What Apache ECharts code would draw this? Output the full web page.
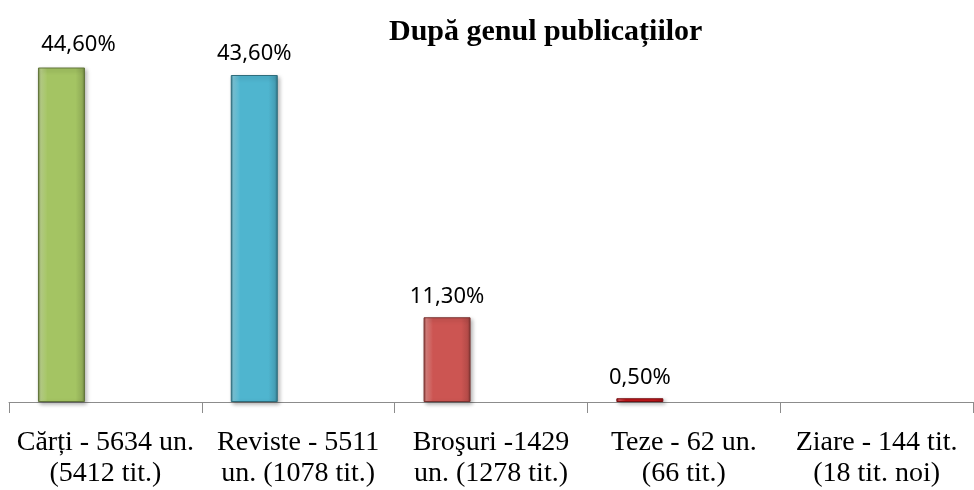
<!DOCTYPE html>
<html>
<head>
	<meta charset="UTF-8">
	<title>După genul publicațiilor</title>
	<script src="https://cdn.jsdelivr.net/npm/echarts@6/dist/echarts.min.js"></script>
	<style>
		html, body { margin: 0; padding: 0; background: #fff; }
		#chart { width: 974px; height: 490px; }
	</style>
</head>
<body>
<div id="chart"></div>
<script type="text/javascript">
	// date
	var categorii = [
		'Cărți - 5634 un.\n(5412 tit.)',
		'Reviste - 5511\nun. (1078 tit.)',
		'Broşuri -1429\nun. (1278 tit.)',
		'Teze - 62 un.\n(66 tit.)',
		'Ziare - 144 tit.\n(18 tit. noi)'
	];
	var procente = [44.6, 43.6, 11.3, 0.5, null];
	var culori = ['#a4c463', '#4fb5cf', '#cc5552', '#c8171c', '#8064a2'];
	var gol = [null, null, null, null, null]; // a doua serie (goala) din Excel

	function umbrire(c) {
		// bara "bevel": margini mai inchise
		var inchis = echarts.color.lerp(0.35, [c, '#000000']);
		var deschis = echarts.color.lerp(0.25, [c, '#ffffff']);
		return {
			type: 'linear', x: 0, y: 0, x2: 1, y2: 0,
			colorStops: [
				{ offset: 0, color: inchis },
				{ offset: 0.06, color: deschis },
				{ offset: 0.2, color: c },
				{ offset: 0.8, color: c },
				{ offset: 0.94, color: echarts.color.lerp(0.12, [c, '#000000']) },
				{ offset: 1, color: inchis }
			]
		};
	}

	var myChart = echarts.init(document.getElementById('chart'));

	var option = {
		animation: false,
		title: {
			text: 'După genul publicațiilor',
			left: 384,
			top: 12,
			textStyle: {
				fontFamily: 'Liberation Serif',
				fontSize: 30,
				fontWeight: 'bold',
				color: '#000'
			}
		},
		grid: { left: 9, right: 1, top: 27, bottom: 88 },
		xAxis: {
			type: 'category',
			data: categorii,
			axisLine: { lineStyle: { color: '#8c8c8c', width: 1 } },
			axisTick: { show: true, length: 11, lineStyle: { color: '#8c8c8c' } },
			axisLabel: {
				margin: 25,
				color: '#000',
				fontFamily: 'Liberation Serif',
				fontSize: 28,
				lineHeight: 31,
				interval: 0
			}
		},
		yAxis: {
			type: 'value',
			min: 0,
			max: 50,
			show: false,
			splitLine: { show: false }
		},
		series: [{
			type: 'bar',
			barWidth: 47,
			barGap: '87%',
			data: procente.map(function (v, i) {
				return {
					value: v,
					// prima eticheta e mutata spre dreapta in original
					label: { offset: [i === 0 ? 17 : 0, i === 0 ? -2 : 0] },
					itemStyle: {
						color: umbrire(culori[i]),
						borderColor: echarts.color.lerp(0.4, [culori[i], '#000000']),
						borderWidth: 1,
						shadowColor: 'rgba(0,0,0,0.3)',
						shadowBlur: 4,
						shadowOffsetX: 2,
						shadowOffsetY: 2
					}
				};
			}),
			label: {
				show: true,
				position: 'top',
				distance: 10,
				color: '#000',
				fontFamily: 'Noto Sans',
				fontSize: 22,
				formatter: function (p) {
					if (p.value == null) return '';
					return p.value.toFixed(2).replace('.', ',') + '%';
				}
			}
		}, {
			type: 'bar',
			barWidth: 47,
			data: gol
		}]
	};
	myChart.setOption(option);
</script>
</body>
</html>
